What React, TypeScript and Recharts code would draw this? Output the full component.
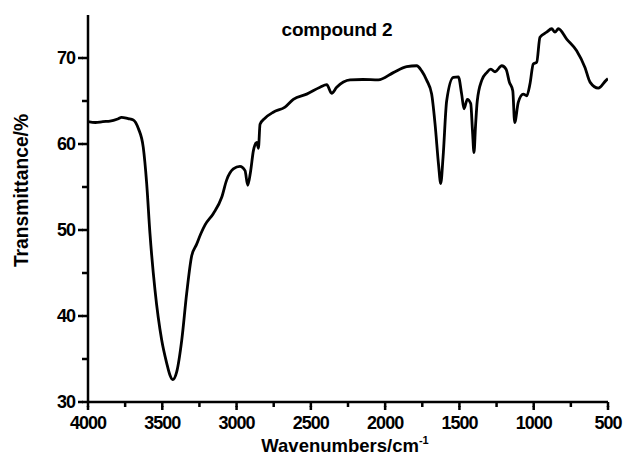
import { LineChart, Line, XAxis, YAxis, Label } from 'recharts';

// IR spectrum of compound 2
const wavenumbers = [
  4000, 3950, 3900, 3852, 3800, 3774, 3730, 3695, 3661, 3628, 3605, 3583, 3549, 3504, 3470, 3448, 3430,
  3403, 3369, 3336, 3302, 3270, 3240, 3212, 3157, 3100, 3067, 3022, 2977, 2943, 2925, 2905, 2887, 2864,
  2853, 2842, 2809, 2753, 2674, 2618, 2528, 2438, 2393, 2360, 2326, 2281, 2236, 2150, 2046, 1945, 1855,
  1788, 1754, 1720, 1687, 1664, 1640, 1626, 1610, 1586, 1541, 1507, 1485, 1469, 1447, 1424, 1412, 1402,
  1392, 1380, 1350, 1316, 1289, 1260, 1215, 1186, 1164, 1141, 1128, 1104, 1070, 1047, 1025, 1003, 980,
  958, 913, 879, 857, 834, 778, 711, 655, 621, 565, 513, 500,
];
const transmittance = [
  62.6, 62.5, 62.6, 62.65, 62.9, 63.1, 62.95, 62.8, 61.8, 59.6, 55.4, 49.6, 43.0, 37.2, 34.5, 33.1, 32.6,
  33.5, 37.2, 42.6, 47.0, 48.3, 49.6, 50.6, 51.9, 53.8, 55.8, 57.1, 57.4, 56.9, 55.2, 56.9, 59.2, 60.2,
  59.5, 62.3, 63.0, 63.7, 64.3, 65.2, 65.8, 66.6, 66.9, 65.9, 66.6, 67.2, 67.45, 67.5, 67.45, 68.3, 69.0,
  69.1, 68.5, 67.4, 65.8, 62.3, 57.5, 55.4, 58.5, 65.0, 67.75, 67.8, 65.8, 64.1, 65.2, 64.7, 61.5, 59.0,
  62.0, 65.0, 67.4, 68.3, 68.7, 68.4, 69.1, 68.7, 67.2, 66.2, 62.5, 64.85, 65.8, 65.6, 67.0, 69.3, 69.5,
  72.4, 73.0, 73.4, 73.0, 73.4, 72.2, 70.85, 68.9, 67.2, 66.5, 67.4, 67.6,
];

const xMajor = [4000, 3500, 3000, 2500, 2000, 1500, 1000, 500];
const xTicks = [4000, 3750, 3500, 3250, 3000, 2750, 2500, 2250, 2000, 1750, 1500, 1250, 1000, 750, 500];
const yMajor = [30, 40, 50, 60, 70];
const yTicks = [30, 35, 40, 45, 50, 55, 60, 65, 70];

const data = wavenumbers.map((w, i) => ({ w, t: transmittance[i] }));

const FONT = 'Liberation Sans, Arial, Helvetica, sans-serif';
const TICK_LINE = { stroke: '#000', strokeWidth: 2.5 };

// tick lines come from recharts (minor length); majors get a small extension here
function BottomTick(props: any) {
  const { x, y, payload } = props;
  const major = xMajor.includes(payload.value);
  return (
    <g>
      {major && <rect x={x - 1.25} y={y - 1} width={2.5} height={4} fill="#000" />}
      {major && (
        <text x={x} y={y + 22} textAnchor="middle" fontFamily={FONT} fontWeight="bold"
          fontSize={18} letterSpacing={-1} fill="#000">
          {payload.value}
        </text>
      )}
    </g>
  );
}

function LeftTick(props: any) {
  const { x, y, payload } = props;
  const major = yMajor.includes(payload.value);
  return (
    <g>
      {major && <rect x={x - 4} y={y - 1.25} width={5} height={2.5} fill="#000" />}
      {major && (
        <text x={x - 7} y={y} dy="0.36em" textAnchor="end" fontFamily={FONT} fontWeight="bold"
          fontSize={18} letterSpacing={-1} fill="#000">
          {payload.value}
        </text>
      )}
    </g>
  );
}

function NoLabel() {
  return <g />;
}

function XTitle(props: any) {
  const vb = props.viewBox;
  return (
    <text x={vb.x + vb.width / 2 - 3} y={vb.y + 50} textAnchor="middle" fontFamily={FONT}
      fontWeight="bold" fontSize={18.5} fill="#000">
      Wavenumbers/cm<tspan fontSize={11} dy={-8}>-1</tspan>
    </text>
  );
}

function YTitle(props: any) {
  const vb = props.viewBox;
  const cx = vb.x + 28;
  const cy = vb.y + vb.height / 2 - 18;
  return (
    <text x={cx} y={cy} transform={`rotate(-90 ${cx} ${cy})`} textAnchor="middle" fontFamily={FONT}
      fontWeight="bold" fontSize={19.3} fill="#000">
      Transmittance/%
    </text>
  );
}

export default function App() {
  return (
    <div style={{ position: 'absolute', left: 0, top: 0, width: 625, height: 468, background: '#fff' }}>
      <LineChart width={625} height={468} data={data} margin={{ top: 15, right: 17, bottom: 0, left: 0 }}>
        <XAxis
          xAxisId="bottom"
          dataKey="w"
          type="number"
          domain={[500, 4000]}
          reversed
          allowDataOverflow
          ticks={xTicks}
          interval={0}
          height={66}
          tickSize={5}
          tickMargin={0}
          tickLine={TICK_LINE}
          axisLine={{ stroke: '#000', strokeWidth: 2.5 }}
          tick={<BottomTick />}
        >
          <Label content={<XTitle />} />
        </XAxis>
        <XAxis
          xAxisId="top"
          orientation="top"
          dataKey="w"
          type="number"
          domain={[500, 4000]}
          reversed
          allowDataOverflow
          ticks={xTicks}
          interval={0}
          height={0}
          tickSize={4}
          tickMargin={0}
          tickLine={TICK_LINE}
          axisLine={{ stroke: '#000', strokeWidth: 2.5 }}
          tick={<NoLabel />}
        />
        <YAxis
          yAxisId="left"
          type="number"
          domain={[30, 75]}
          allowDataOverflow
          ticks={yTicks}
          interval={0}
          width={88}
          tickSize={6}
          tickMargin={0}
          tickLine={TICK_LINE}
          axisLine={{ stroke: '#000', strokeWidth: 2.5 }}
          tick={<LeftTick />}
        >
          <Label content={<YTitle />} />
        </YAxis>
        <YAxis
          yAxisId="right"
          orientation="right"
          type="number"
          domain={[30, 75]}
          allowDataOverflow
          ticks={yTicks}
          interval={0}
          width={0}
          tickSize={5}
          tickMargin={0}
          tickLine={TICK_LINE}
          axisLine={{ stroke: '#000', strokeWidth: 2.5 }}
          tick={<NoLabel />}
        />
        <Line
          xAxisId="bottom"
          yAxisId="left"
          type="monotone"
          dataKey="t"
          stroke="#000"
          strokeWidth={2.8}
          dot={false}
          isAnimationActive={false}
        />
      </LineChart>
      <div
        style={{
          position: 'absolute', left: 337, top: 20, transform: 'translateX(-50%)', whiteSpace: 'nowrap',
          fontFamily: FONT, fontWeight: 'bold', fontSize: 19, lineHeight: 1, letterSpacing: -0.2, color: '#000',
        }}
      >
        compound 2
      </div>
    </div>
  );
}
